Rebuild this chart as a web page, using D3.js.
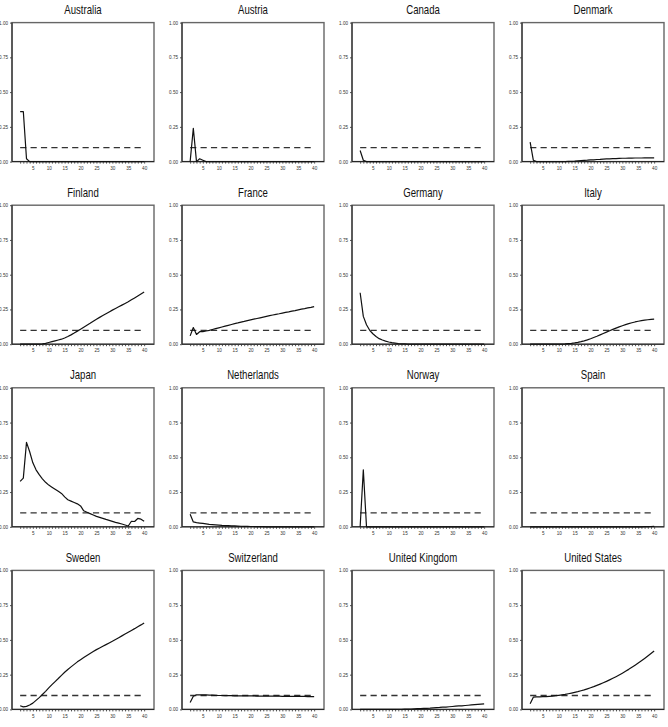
<!DOCTYPE html>
<html><head><meta charset="utf-8">
<script src="https://cdn.jsdelivr.net/npm/d3@7"></script>
<style>
body{margin:0;background:#fff;}
svg{display:block;}
.title{font-family:"Liberation Sans",Arial,sans-serif;font-size:12px;fill:#111;}
.tick text{font-family:"Liberation Sans",Arial,sans-serif;font-size:4.6px;fill:#333;}
</style></head>
<body>
<svg id="chart" width="668" height="727"></svg>
<script>
const countries = ["Australia","Austria","Canada","Denmark","Finland","France","Germany","Italy","Japan","Netherlands","Norway","Spain","Sweden","Switzerland","United Kingdom","United States"];
const horizons = [1,2,3,4,5,6,7,8,9,10,11,12,13,14,15,16,17,18,19,20,21,22,23,24,25,26,27,28,29,30,31,32,33,34,35,36,37,38,39,40];
const threshold = 0.1;
const yTicks = [0,0.25,0.5,0.75,1];
const xTickLabels = [5,10,15,20,25,30,35,40];

const australia = [0.36,0.36,0.02,0,0,0,0,0,0,0, 0,0,0,0,0,0,0,0,0,0, 0,0,0,0,0,0,0,0,0,0, 0,0,0,0,0,0,0,0,0,0];
const austria = [0,0.24,0,0.02,0.01,0,0,0,0,0, 0,0,0,0,0,0,0,0,0,0, 0,0,0,0,0,0,0,0,0,0, 0,0,0,0,0,0,0,0,0,0];
const canada = [0.08,0.01,0,0,0,0,0,0,0,0, 0,0,0,0,0,0,0,0,0,0, 0,0,0,0,0,0,0,0,0,0, 0,0,0,0,0,0,0,0,0,0];
const denmark = [0.14,0.01,0,0,0,0,0,0,0,0, 0,0,0.001,0.002,0.003,0.005,0.007,0.009,0.010,0.012, 0.013,0.015,0.016,0.018,0.019,0.020,0.021,0.022,0.023,0.024, 0.024,0.025,0.025,0.026,0.026,0.026,0.027,0.027,0.027,0.027];
const finland = [0,0,0,0,0,0,0.001,0.003,0.006,0.012, 0.018,0.024,0.030,0.036,0.045,0.055,0.067,0.080,0.094,0.108, 0.122,0.136,0.150,0.165,0.180,0.193,0.206,0.219,0.232,0.245, 0.257,0.269,0.281,0.293,0.305,0.319,0.333,0.347,0.361,0.375];
const france = [0.06,0.12,0.07,0.09,0.09,0.095,0.10,0.106,0.112,0.118, 0.124,0.130,0.136,0.142,0.148,0.153,0.159,0.164,0.170,0.175, 0.180,0.185,0.190,0.195,0.200,0.205,0.210,0.215,0.219,0.224, 0.229,0.233,0.238,0.242,0.247,0.252,0.256,0.261,0.265,0.270];
const germany = [0.37,0.20,0.14,0.10,0.075,0.055,0.04,0.03,0.022,0.016, 0.011,0.008,0.005,0.003,0.002,0.001,0,0,0,0, 0,0,0,0,0,0,0,0,0,0, 0,0,0,0,0,0,0,0,0,0];
const italy = [0,0,0,0,0,0,0,0,0,0, 0.001,0.002,0.004,0.006,0.009,0.013,0.018,0.024,0.031,0.039, 0.048,0.057,0.067,0.077,0.087,0.097,0.107,0.116,0.125,0.133, 0.141,0.148,0.154,0.160,0.165,0.169,0.173,0.176,0.179,0.181];
const japan = [0.327,0.35,0.607,0.54,0.46,0.41,0.375,0.345,0.32,0.30, 0.285,0.27,0.255,0.24,0.215,0.195,0.185,0.175,0.165,0.15, 0.115,0.105,0.095,0.085,0.075,0.068,0.061,0.053,0.046,0.039, 0.032,0.026,0.02,0.013,0.006,0.04,0.038,0.06,0.055,0.04];
const netherlands = [0.09,0.035,0.03,0.027,0.024,0.021,0.018,0.016,0.014,0.012, 0.010,0.009,0.008,0.007,0.006,0.005,0.004,0.003,0.003,0.002, 0.002,0.001,0.001,0.001,0,0,0,0,0,0, 0,0,0,0,0,0,0,0,0,0];
const norway = [0,0.41,0,0,0,0,0,0,0,0, 0,0,0,0,0,0,0,0,0,0, 0,0,0,0,0,0,0,0,0,0, 0,0,0,0,0,0,0,0,0,0];
const spain = [0,0,0,0,0,0,0,0,0,0, 0,0,0,0,0,0,0,0,0,0, 0,0,0,0,0,0,0,0,0,0, 0,0,0,0,0,0,0.001,0.001,0.002,0.003];
const sweden = [0.026,0.018,0.022,0.032,0.045,0.065,0.085,0.107,0.13,0.155, 0.178,0.2,0.222,0.245,0.267,0.287,0.306,0.324,0.342,0.358, 0.373,0.388,0.402,0.416,0.43,0.442,0.454,0.466,0.478,0.49, 0.503,0.516,0.529,0.542,0.555,0.568,0.581,0.595,0.608,0.622];
const switzerland = [0.05,0.095,0.105,0.105,0.105,0.104,0.103,0.102,0.101,0.100, 0.100,0.099,0.099,0.099,0.098,0.098,0.098,0.097,0.097,0.097, 0.097,0.096,0.096,0.096,0.096,0.095,0.095,0.095,0.095,0.094, 0.094,0.094,0.094,0.093,0.093,0.093,0.093,0.092,0.092,0.092];
const uk = [0,0,0,0,0,0,0,0,0,0, 0,0,0.001,0.001,0.002,0.002,0.003,0.004,0.005,0.006, 0.007,0.008,0.009,0.011,0.013,0.014,0.016,0.017,0.019,0.021, 0.023,0.025,0.026,0.028,0.030,0.032,0.034,0.036,0.038,0.040];
const usa = [0.04,0.088,0.090,0.0906,0.0914,0.0925,0.094,0.096,0.0985,0.1014, 0.1047,0.1084,0.1127,0.1174,0.1225,0.1281,0.1343,0.1409,0.1481,0.1557, 0.1638,0.1725,0.1817,0.1914,0.2015,0.2123,0.2236,0.2354,0.2477,0.2606, 0.2741,0.288,0.3026,0.3177,0.3333,0.3495,0.3663,0.3837,0.4015,0.42];

const seriesList = [australia,austria,canada,denmark,finland,france,germany,italy,japan,netherlands,norway,spain,sweden,switzerland,uk,usa];

const svg = d3.select("#chart");
const pw = 142, ph = 139;
const x = d3.scaleLinear().domain([-1.56, 43.1]).range([0, pw]);
const y = d3.scaleLinear().domain([0, 1]).range([ph, 0]);

countries.forEach((name, i) => {
  const col = i % 4, row = Math.floor(i / 4);
  const left = 12 + col * 170;
  const top = 22.6 + row * 182.6;
  const g = svg.append("g").attr("transform", `translate(${left},${top})`);

  g.append("g").attr("transform", `translate(${pw / 2},${-8.5}) scale(0.8,1)`)
    .append("text").attr("class", "title")
    .attr("text-anchor", "middle").text(name);

  const xAxis = d3.axisBottom(x).tickValues(horizons).tickSize(2).tickPadding(3)
    .tickFormat(d => xTickLabels.includes(d) ? d : "");
  const xg = g.append("g").attr("transform", `translate(0,${ph})`).call(xAxis);
  xg.select(".domain").remove();
  xg.selectAll(".tick line").attr("stroke", "#222").attr("stroke-width", 0.8);

  const yAxis = d3.axisLeft(y).tickValues(yTicks).tickSize(2).tickPadding(2)
    .tickFormat(d3.format(".2f"));
  const yg = g.append("g").call(yAxis);
  yg.select(".domain").remove();
  yg.selectAll(".tick line").attr("stroke", "#222").attr("stroke-width", 0.8);

  g.append("rect").attr("x", 0).attr("y", 0).attr("width", pw).attr("height", ph)
    .attr("fill", "none").attr("stroke", "#666").attr("stroke-width", 1.4);
  g.append("line").attr("x1", 0).attr("x2", 0).attr("y1", 0).attr("y2", ph)
    .attr("stroke", "#222").attr("stroke-width", 1);
  g.append("line").attr("x1", 0).attr("x2", pw).attr("y1", ph).attr("y2", ph)
    .attr("stroke", "#222").attr("stroke-width", 1);

  g.append("line")
    .attr("x1", x(horizons[0])).attr("x2", x(horizons[horizons.length - 1]))
    .attr("y1", y(threshold)).attr("y2", y(threshold))
    .attr("stroke", "#333").attr("stroke-width", 1.3).attr("stroke-dasharray", "6.2,4.2");

  const data = horizons.map((h, k) => [h, seriesList[i][k]]);
  g.append("path").datum(data)
    .attr("d", d3.line().x(d => x(d[0])).y(d => y(d[1])))
    .attr("fill", "none").attr("stroke", "#111").attr("stroke-width", 1.2)
    .attr("stroke-linejoin", "round");
});
</script>
</body></html>
